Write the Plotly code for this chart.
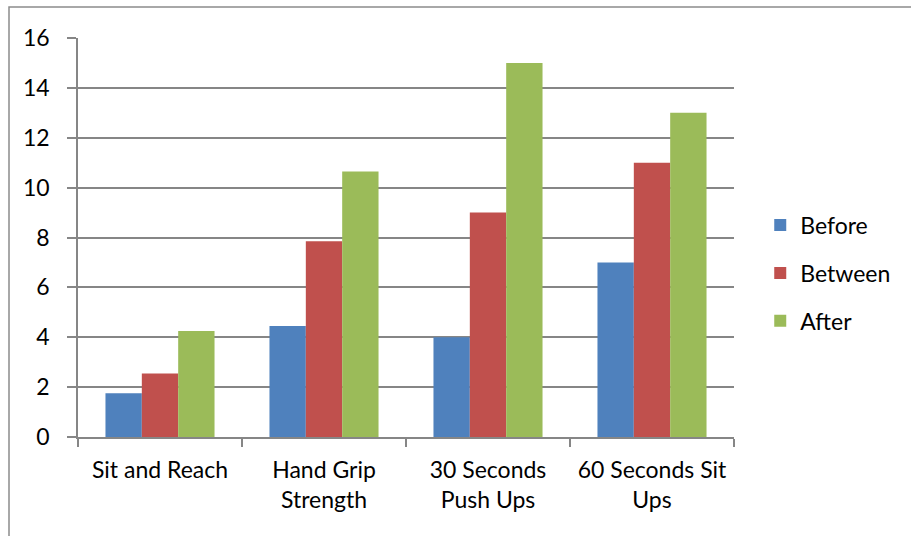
import plotly.graph_objects as go

# Fitness test results by phase
categories = ["Sit and Reach", "Hand Grip Strength", "30 Seconds Push Ups", "60 Seconds Sit Ups"]
tick_labels = ["Sit and Reach", "Hand Grip<br>Strength", "30 Seconds<br>Push Ups", "60 Seconds Sit<br>Ups"]
before = [1.75, 4.45, 4.0, 7.0]
between = [2.55, 7.85, 9.0, 11.0]
after = [4.25, 10.65, 15.0, 13.0]

series = [("Before", before, "#4F81BD"),
          ("Between", between, "#C0504D"),
          ("After", after, "#9BBB59")]

W, H = 911, 536
ML, MR, MT, MB = 78, 177, 38, 99
FONT = "Lato, 'Open Sans', sans-serif"
GRID = "#868686"

fig = go.Figure()
for name, vals, color in series:
    fig.add_trace(go.Bar(
        x=categories, y=vals, name=name, legendgroup=name,
        marker=dict(color=color, line=dict(width=0)),
    ))

pw = W - ML - MR
ph = H - MT - MB
# outer chart frame
fig.add_shape(type="rect", xref="paper", yref="paper",
              x0=(9 - ML) / pw, x1=(W + 5 - ML) / pw,
              y0=-(MB + 5) / ph, y1=(H - MB - 7) / ph,
              line=dict(color="#8c8c8c", width=1.5), fillcolor="rgba(0,0,0,0)", layer="below")

fig.update_layout(
    width=W, height=H,
    margin=dict(l=ML, r=MR, t=MT, b=MB, autoexpand=False),
    paper_bgcolor="white", plot_bgcolor="white",
    barmode="group", bargap=0.335, bargroupgap=0,
    font=dict(family=FONT, size=23, color="#000000"),
    legend=dict(x=1.04, y=0.585, xanchor="left", yanchor="top",
                traceorder="grouped", tracegroupgap=15,
                font=dict(family=FONT, size=23), bgcolor="rgba(0,0,0,0)"),
    xaxis=dict(
        tickmode="array", tickvals=categories, ticktext=tick_labels,
        tickangle=0, automargin=False,
        tickson="boundaries", ticks="outside", ticklen=8, tickcolor=GRID, tickwidth=1.5,
        showline=True, linecolor=GRID, linewidth=1.5, showgrid=False,
        ticklabelstandoff=12,
    ),
    yaxis=dict(
        range=[0, 16], dtick=2, ticks="outside", ticklen=9, tickcolor=GRID, tickwidth=1.5,
        showgrid=True, gridcolor=GRID, gridwidth=1.5, automargin=False,
        showline=True, linecolor=GRID, linewidth=1.5,
        zeroline=False, ticklabelstandoff=13,
    ),
)

fig.write_html("out.html")
